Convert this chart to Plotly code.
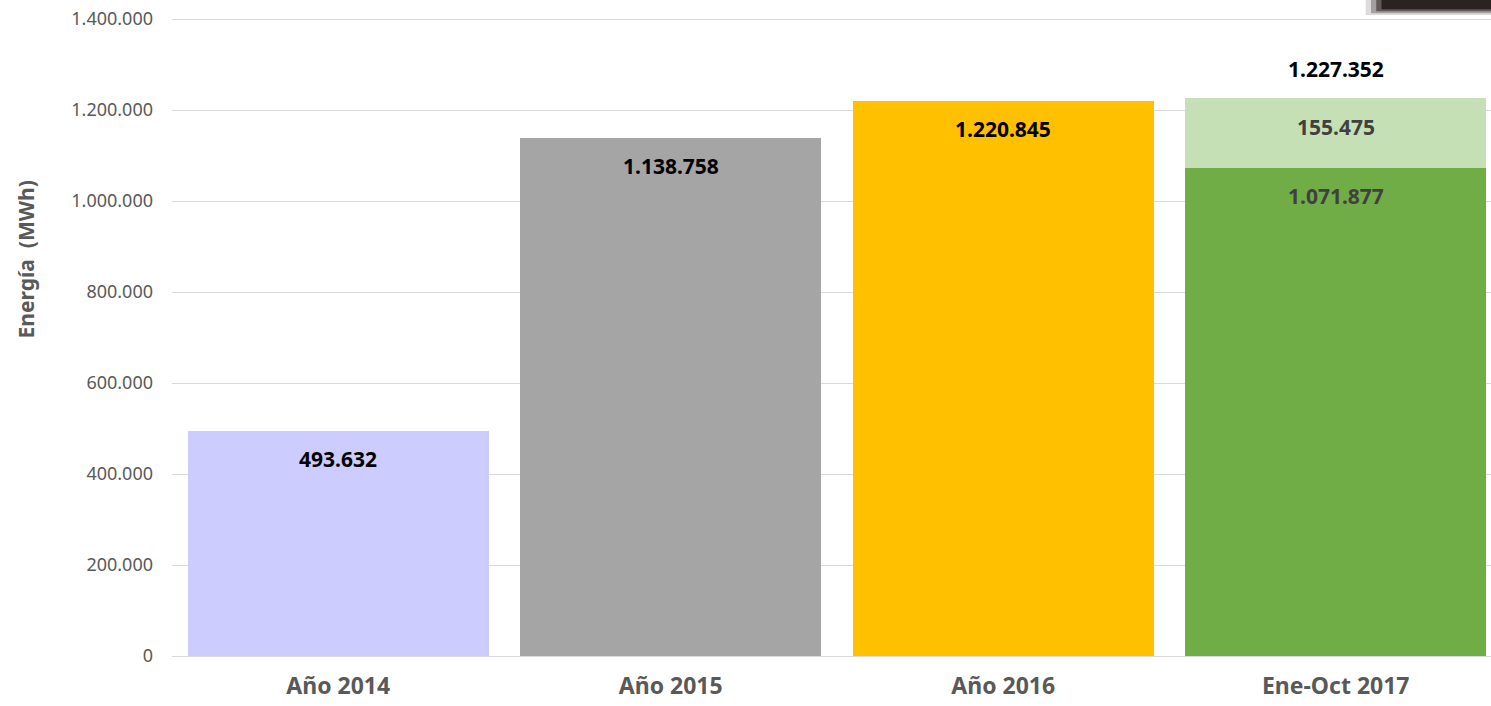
import plotly.graph_objects as go

categories = ["Año 2014", "Año 2015", "Año 2016", "Ene-Oct 2017"]
base_values = [493632, 1138758, 1220845, 1071877]
extra_values = [None, None, None, 155475]
base_colors = ["#CCCCFF", "#A5A5A5", "#FFC000", "#70AD47"]
extra_color = "#C5E0B4"
label_colors = ["#000000", "#000000", "#000000", "#404040"]
y_ticks = [0, 200000, 400000, 600000, 800000, 1000000, 1200000, 1400000]


def fmt(v):
    return f"{v:,}".replace(",", ".")


fig = go.Figure()
fig.add_trace(go.Bar(x=categories, y=base_values, marker_color=base_colors,
                     marker_line_width=0, hoverinfo="skip"))
fig.add_trace(go.Bar(x=categories, y=extra_values, marker_color=extra_color,
                     marker_line_width=0, hoverinfo="skip"))

annotations = []
for cat, v, c in zip(categories, base_values, label_colors):
    annotations.append(dict(x=cat, y=v, yshift=-28, text=fmt(v), showarrow=False,
                            font=dict(family="Noto Sans", size=21, color=c, weight="bold")))
for cat, b, e in zip(categories, base_values, extra_values):
    if e is None:
        continue
    total = b + e
    annotations.append(dict(x=cat, y=total, yshift=-29, text=fmt(e), showarrow=False,
                            font=dict(family="Noto Sans", size=21, color="#404040", weight="bold")))
    annotations.append(dict(x=cat, y=total, yshift=29, text=fmt(total), showarrow=False,
                            font=dict(family="Noto Sans", size=21, color="#000000", weight="bold")))

# y-axis title placed as rotated text
annotations.append(dict(xref="paper", yref="paper", x=-0.111, y=0.62, xanchor="center",
                        text="Energía  (MWh)", textangle=-90, showarrow=False,
                        font=dict(family="Noto Sans", size=21, color="#595959", weight="bold")))

fig.update_layout(
    width=1491, height=706,
    margin=dict(l=172, r=0, t=17, b=50),
    barmode="stack",
    bargap=0.095,
    showlegend=False,
    separators=",.",
    plot_bgcolor="white",
    paper_bgcolor="white",
    annotations=annotations,
    shapes=[
        dict(type="rect", xref="paper", yref="paper", x0=0.905, x1=1.01, y0=1.003, y1=1.04,
             fillcolor="rgba(30,20,20,0.15)", line_width=0, layer="above"),
        dict(type="rect", xref="paper", yref="paper", x0=0.909, x1=1.01, y0=1.006, y1=1.04,
             fillcolor="rgba(30,20,20,0.3)", line_width=0, layer="above"),
        dict(type="rect", xref="paper", yref="paper", x0=0.913, x1=1.01, y0=1.009, y1=1.04,
             fillcolor="rgba(30,20,20,0.5)", line_width=0, layer="above"),
        dict(type="rect", xref="paper", yref="paper", x0=0.917, x1=1.01, y0=1.012, y1=1.04,
             fillcolor="rgba(30,20,20,0.8)", line_width=0, layer="above"),
    ],
)
fig.update_xaxes(
    range=[-0.5, 3.467],
    tickfont=dict(family="Noto Sans", size=23, color="#595959", weight="bold"),
    ticklabelstandoff=14,
    showline=False,
    showgrid=False,
)
fig.update_yaxes(
    range=[0, 1404400],
    tickvals=y_ticks,
    tickformat=",d",
    tickfont=dict(family="Noto Sans", size=18, color="#595959"),
    ticklabelstandoff=18,
    gridcolor="#D9D9D9",
    zerolinecolor="#D9D9D9",
    zerolinewidth=1,
)

# drop the default 8px page margin so the figure fills the window
fig.write_html("out.html", config={"displayModeBar": False},
               post_script="document.body.style.margin='0';")
